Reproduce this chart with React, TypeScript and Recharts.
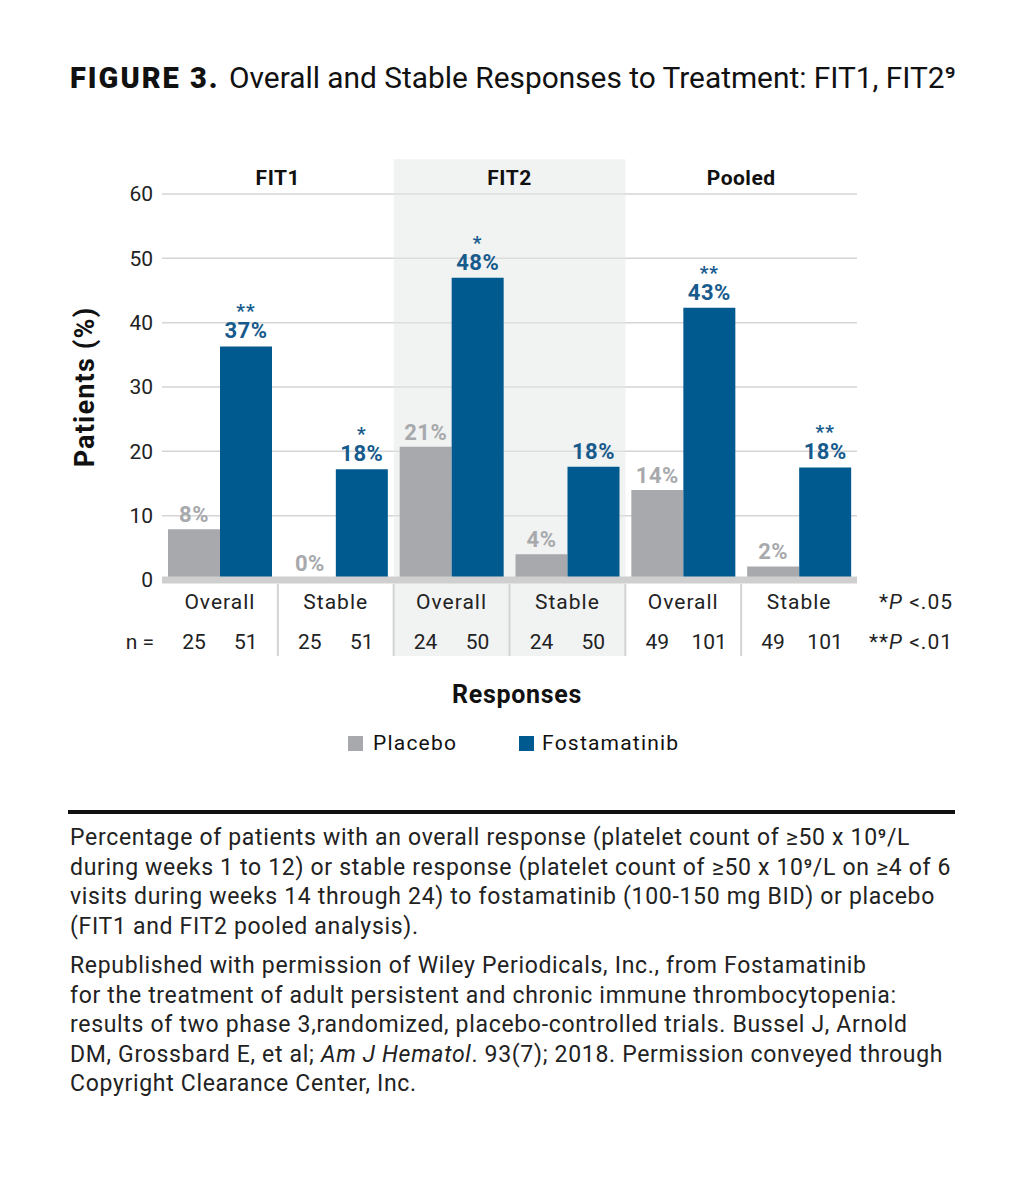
import {
  Bar,
  BarChart,
  CartesianGrid,
  LabelList,
  ReferenceArea,
  XAxis,
  YAxis,
} from "recharts";

const categories = [
  "FIT1 Overall",
  "FIT1 Stable",
  "FIT2 Overall",
  "FIT2 Stable",
  "Pooled Overall",
  "Pooled Stable",
];
const responseTypes = ["Overall", "Stable", "Overall", "Stable", "Overall", "Stable"];
const groups = ["FIT1", "FIT1", "FIT2", "FIT2", "Pooled", "Pooled"];
const placeboValues = [7.9, 0, 20.7, 4.0, 14.0, 2.1];
const fostaValues = [36.3, 17.2, 47.0, 17.6, 42.3, 17.5];
const placeboLabels = ["8%", "0%", "21%", "4%", "14%", "2%"];
const fostaLabels = ["37%", "18%", "48%", "18%", "43%", "18%"];
const fostaStars = ["**", "*", "*", "", "**", "**"];
const placeboN = [25, 25, 24, 24, 49, 49];
const fostaN = [51, 51, 50, 50, 101, 101];
const yTicks = [0, 10, 20, 30, 40, 50, 60];

const data = categories.map((c, i) => ({
  category: c,
  placebo: placeboValues[i],
  fosta: fostaValues[i],
  placeboLabel: placeboLabels[i],
  fostaLabel: fostaLabels[i],
}));

const GRAY = "#a7a9ac";
const BLUE = "#005a8f";
const FONT = "Roboto, 'DejaVu Sans', sans-serif";

function BottomTick(props: any) {
  const { x, y, payload, index } = props;
  const half = payload?.offset || 58;
  const barShift = (half - 6) / 2;
  const i = index;
  return (
    <g fontFamily={FONT} fontSize={21} fill="#222">
      {i > 0 && (
        <line x1={x - half} x2={x - half} y1={y + 4} y2={y + 76} stroke="#d3d3d3" strokeWidth={2} />
      )}
      <text x={x} y={y + 29} textAnchor="middle" letterSpacing={1} fill="#222">
        {responseTypes[i]}
      </text>
      <text x={x - barShift} y={y + 69} textAnchor="middle" fill="#222">
        {placeboN[i]}
      </text>
      <text x={x + barShift} y={y + 69} textAnchor="middle" fill="#222">
        {fostaN[i]}
      </text>
      {i === 0 && (
        <text x={x - half - 8} y={y + 69} textAnchor="end" fill="#222">
          n =
        </text>
      )}
      {i === categories.length - 1 && (
        <>
          <text x={x + half + 96} y={y + 29} textAnchor="end" letterSpacing={1} fill="#222">
            *<tspan fontStyle="italic">P</tspan> &lt;.05
          </text>
          <text x={x + half + 96} y={y + 69} textAnchor="end" letterSpacing={1} fill="#222">
            **<tspan fontStyle="italic">P</tspan> &lt;.01
          </text>
        </>
      )}
    </g>
  );
}

function TopTick(props: any) {
  const { x, y, payload, index } = props;
  const half = payload?.offset || 58;
  if (index % 2 !== 0) return null;
  return (
    <text
      x={x + half}
      y={y}
      textAnchor="middle"
      fontFamily={FONT}
      fontWeight={700}
      fontSize={21}
      letterSpacing={0.5}
      fill="#111"
    >
      {groups[index]}
    </text>
  );
}

function PlaceboLabel(props: any) {
  const { x, y, width, value } = props;
  return (
    <text
      x={x + width / 2}
      y={y - 7}
      textAnchor="middle"
      fontFamily={FONT}
      fontWeight={700}
      fontSize={22}
      letterSpacing={0.5}
      fill={GRAY}
    >
      {value}
    </text>
  );
}

function FostaLabel(props: any) {
  const { x, y, width, value, index } = props;
  const cx = x + width / 2;
  return (
    <g fontFamily={FONT} fontWeight={700} fill="#175b8d" textAnchor="middle">
      <text x={cx} y={y - 8} fontSize={22} letterSpacing={0.5}>
        {value}
      </text>
      {fostaStars[index] && (
        <text x={cx} y={y - 29} fontSize={19} letterSpacing={1}>
          {fostaStars[index]}
        </text>
      )}
    </g>
  );
}

function YLabel(props: any) {
  const { viewBox } = props;
  const cx = viewBox.x + 23;
  const cy = viewBox.y + viewBox.height / 2;
  return (
    <text
      x={cx}
      y={cy}
      transform={`rotate(-90 ${cx} ${cy})`}
      textAnchor="middle"
      dominantBaseline="central"
      fontFamily={FONT}
      fontWeight={700}
      fontSize={27}
      letterSpacing={1.2}
      fill="#111"
    >
      Patients (%)
    </text>
  );
}

const captionA = [
  "Percentage of patients with an overall response (platelet count of ≥50 x 10⁹/L",
  "during weeks 1 to 12) or stable response (platelet count of ≥50 x 10⁹/L on ≥4 of 6",
  "visits during weeks 14 through 24) to fostamatinib (100-150 mg BID) or placebo",
  "(FIT1 and FIT2 pooled analysis).",
];

export default function App() {
  return (
    <div
      style={{
        position: "absolute",
        left: 0,
        top: 0,
        width: 1023,
        height: 1200,
        background: "#fff",
        overflow: "hidden",
      }}
    >
      <div
        style={{
          position: "absolute",
          left: 70,
          top: 60,
          whiteSpace: "nowrap",
          color: "#111",
        }}
      >
        <span style={{ fontFamily: FONT, fontWeight: 900, fontSize: 29, letterSpacing: 2 }}>
          FIGURE 3.
        </span>
        <span
          style={{
            display: "inline-block",
            fontFamily: FONT,
            fontSize: 30,
            marginLeft: 9,
            transform: "scaleX(0.995)",
            transformOrigin: "left center",
          }}
        >
          Overall and Stable Responses to Treatment: FIT1, FIT2⁹
        </span>
      </div>

      <div style={{ position: "absolute", left: 0, top: 0 }}>
        <BarChart
          width={1023}
          height={680}
          data={data}
          margin={{ top: 154, right: 166, left: 62, bottom: 0 }}
          barCategoryGap={6}
          barGap={0}
        >
          <ReferenceArea
            x1="FIT2 Overall"
            x2="FIT2 Stable"
            y1={-11.8}
            y2={65.4}
            ifOverflow="visible"
            fill="#e4e6e6"
            fillOpacity={0.5}
            stroke="none"
          />
          <CartesianGrid vertical={false} stroke="#d5d5d5" strokeWidth={1.5} />
          <XAxis
            dataKey="category"
            xAxisId={0}
            height={100}
            tickSize={0}
            tickMargin={0}
            axisLine={{ stroke: "#cfcfcf", strokeWidth: 7 }}
            tickLine={false}
            interval={0}
            tick={<BottomTick />}
          />
          <XAxis
            dataKey="category"
            xAxisId="top"
            orientation="top"
            height={40}
            tickSize={0}
            tickMargin={9}
            axisLine={false}
            tickLine={false}
            interval={0}
            tick={<TopTick />}
          />
          <YAxis
            domain={[0, 60]}
            ticks={yTicks}
            width={100}
            axisLine={false}
            tickLine={false}
            tickSize={0}
            tickMargin={9}
            tick={{ fontFamily: FONT, fontSize: 21, fill: "#222" }}
            label={<YLabel />}
          />
          <Bar dataKey="placebo" fill={GRAY} minPointSize={2} isAnimationActive={false}>
            <LabelList dataKey="placeboLabel" content={<PlaceboLabel />} />
          </Bar>
          <Bar dataKey="fosta" fill={BLUE} isAnimationActive={false}>
            <LabelList dataKey="fostaLabel" content={<FostaLabel />} />
          </Bar>
        </BarChart>
      </div>

      <div
        style={{
          position: "absolute",
          left: 0,
          width: 1034,
          top: 680,
          textAlign: "center",
          fontFamily: FONT,
          fontWeight: 700,
          fontSize: 25,
          letterSpacing: 0.7,
          color: "#111",
        }}
      >
        Responses
      </div>

      <div
        style={{
          position: "absolute",
          left: 348,
          top: 731,
          display: "flex",
          alignItems: "center",
          fontFamily: FONT,
          fontSize: 21,
          letterSpacing: 1.2,
          color: "#111",
          whiteSpace: "nowrap",
        }}
      >
        <span style={{ width: 15, height: 15, background: GRAY, display: "inline-block" }} />
        <span style={{ marginLeft: 10 }}>Placebo</span>
        <span
          style={{ width: 15, height: 15, background: BLUE, display: "inline-block", marginLeft: 62 }}
        />
        <span style={{ marginLeft: 8 }}>Fostamatinib</span>
      </div>

      <div
        style={{
          position: "absolute",
          left: 68,
          top: 810,
          width: 887,
          height: 4,
          background: "#111",
        }}
      />

      <div
        style={{
          position: "absolute",
          left: 70,
          top: 823,
          fontFamily: FONT,
          fontSize: 23,
          letterSpacing: 0.68,
          lineHeight: "29.5px",
          color: "#222",
          whiteSpace: "nowrap",
        }}
      >
        {captionA.map((line, i) => (
          <div key={i}>{line}</div>
        ))}
        <div style={{ marginTop: 10 }}>
          Republished with permission of Wiley Periodicals, Inc., from Fostamatinib
        </div>
        <div>for the treatment of adult persistent and chronic immune thrombocytopenia:</div>
        <div>results of two phase 3,randomized, placebo-controlled trials. Bussel J, Arnold</div>
        <div>
          DM, Grossbard E, et al; <i>Am J Hematol</i>. 93(7); 2018. Permission conveyed through
        </div>
        <div>Copyright Clearance Center, Inc.</div>
      </div>
    </div>
  );
}
